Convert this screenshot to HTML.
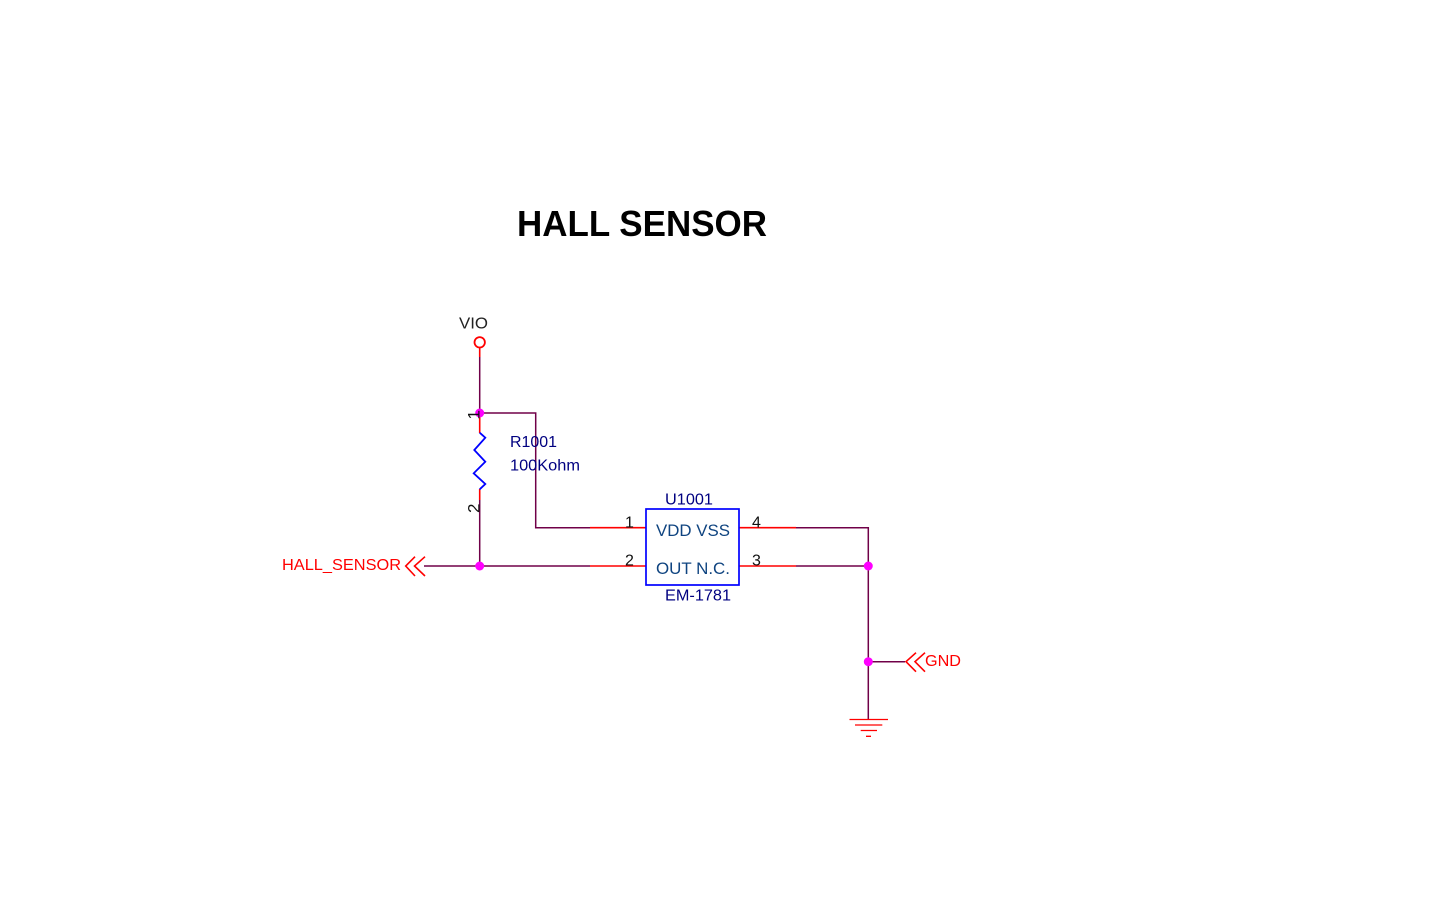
<!DOCTYPE html>
<html><head><meta charset="utf-8"><style>
html,body{margin:0;padding:0;background:#fff;width:1456px;height:908px;overflow:hidden}
svg{display:block}
text{font-family:"Liberation Sans",sans-serif}
</style></head><body>
<svg width="1456" height="908" viewBox="0 0 1456 908" xmlns="http://www.w3.org/2000/svg">
<!-- nets -->
<g fill="none" stroke="#700048" stroke-width="1.5">
<path d="M479.700 357V413H535.700V527.700H590"/>
<path d="M479.700 500V566"/>
<path d="M424 566H590"/>
<path d="M796 527.700H868.300V719"/>
<path d="M796 566H868.300"/>
<path d="M868.300 661.700H905"/>
</g>
<!-- red pin segments -->
<g fill="none" stroke="#f00" stroke-width="1.6">
<path d="M479.700 347V357"/>
<path d="M479.700 413V433"/>
<path d="M479.700 489V500"/>
<path d="M590 527.700H646"/>
<path d="M590 566H646"/>
<path d="M739 527.700H796"/>
<path d="M739 566H796"/>
</g>
<!-- ground -->
<path d="M849.500 719.500H888M855 725H882.300M860.700 730.500H877M866 736.300H871" fill="none" stroke="#f00" stroke-width="1.3"/>
<!-- resistor -->
<polyline points="479.700,432.700 485.300,437.700 474.300,450 485.300,461.700 473.700,473.300 485.300,484 479.700,489.300" fill="none" stroke="#00f" stroke-width="1.8"/>
<!-- IC body -->
<rect x="646" y="509" width="93" height="76" fill="none" stroke="#00f" stroke-width="1.7"/>
<!-- VIO -->
<circle cx="479.700" cy="342.300" r="5.200" fill="none" stroke="#f00" stroke-width="1.8"/>
<!-- off-page connectors -->
<path d="M415 556.700L405.700 566L415 576M425 556.700L414.500 566L425 576M916 652.700L906 661.700L916 671.700M925 652.700L915 661.700L925 671.700" fill="none" stroke="#f00" stroke-width="1.6"/>
<!-- junctions -->
<g fill="#f0f"><circle cx="479.700" cy="413" r="4.500"/><circle cx="479.700" cy="566" r="4.500"/><circle cx="868.300" cy="566" r="4.500"/><circle cx="868.300" cy="661.700" r="4.500"/></g>
<!-- text -->
<text x="517" y="236" font-size="36" font-weight="bold" fill="#000" textLength="250" lengthAdjust="spacingAndGlyphs">HALL SENSOR</text>
<text x="459" y="328.500" font-size="16" fill="#222" textLength="29" lengthAdjust="spacingAndGlyphs">VIO</text>
<text x="510" y="447" font-size="16" fill="#000080" textLength="47" lengthAdjust="spacingAndGlyphs">R1001</text>
<text x="510" y="470.500" font-size="16" fill="#000080" textLength="70" lengthAdjust="spacingAndGlyphs">100Kohm</text>
<text x="665" y="504.500" font-size="16" fill="#000080" textLength="48" lengthAdjust="spacingAndGlyphs">U1001</text>
<text x="665" y="600.500" font-size="16" fill="#000080" textLength="66" lengthAdjust="spacingAndGlyphs">EM-1781</text>
<text x="656" y="536" font-size="16.500" fill="#0f4480" textLength="74" lengthAdjust="spacingAndGlyphs">VDD VSS</text>
<text x="656" y="574" font-size="16.500" fill="#0f4480" textLength="74" lengthAdjust="spacingAndGlyphs">OUT N.C.</text>
<text x="625" y="527.500" font-size="16" fill="#111">1</text>
<text x="625" y="565.500" font-size="16" fill="#111">2</text>
<text x="752" y="527.500" font-size="16" fill="#111">4</text>
<text x="752" y="565.500" font-size="16" fill="#111">3</text>
<text transform="translate(479.500,419.500) rotate(-90)" font-size="17" fill="#111">1</text>
<text transform="translate(479.500,513) rotate(-90)" font-size="17" fill="#111">2</text>
<text x="282" y="570" font-size="16" fill="#f00" textLength="119" lengthAdjust="spacingAndGlyphs">HALL_SENSOR</text>
<text x="925" y="666" font-size="16" fill="#f00" textLength="36" lengthAdjust="spacingAndGlyphs">GND</text>
</svg>
</body></html>
